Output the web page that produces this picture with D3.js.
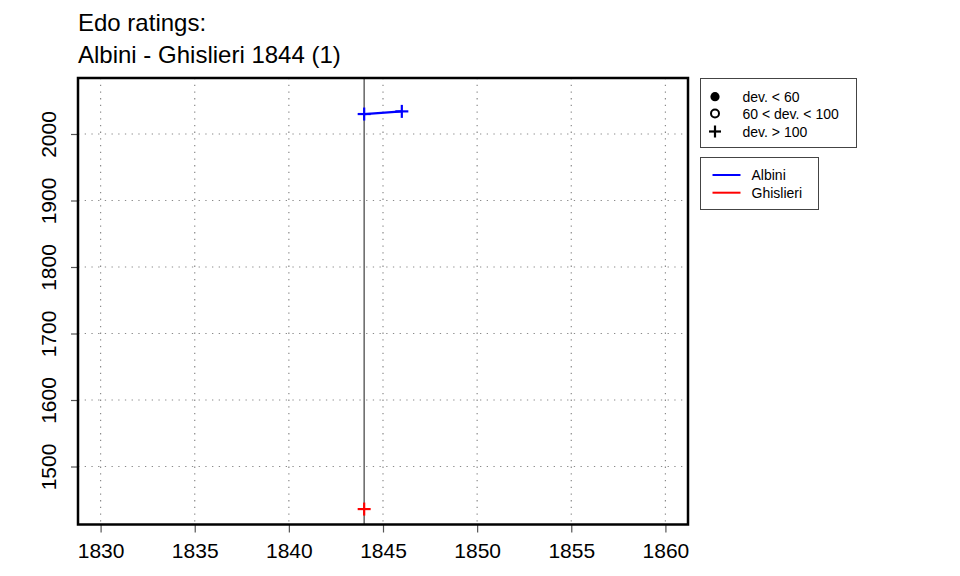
<!DOCTYPE html>
<html>
<head>
<meta charset="utf-8">
<script src="https://cdn.jsdelivr.net/npm/d3@7"></script>
<style>
  body { margin: 0; background: #fff; }
  svg { font-family: "Liberation Sans", Arial, Helvetica, sans-serif; }
</style>
</head>
<body>
<svg id="chart" width="960" height="576"></svg>
<script>
// ---- data ----
const titleLines = ["Edo ratings:", "Albini - Ghislieri 1844 (1)"];
const xTicks = [1830, 1835, 1840, 1845, 1850, 1855, 1860];
const yTicks = [1500, 1600, 1700, 1800, 1900, 2000];
const xDomain = [1828.8, 1861.2];
const yDomain = [1412.8, 2084.2];
const matchYear = 1844;
const playerNames = ["Albini", "Ghislieri"];
const playerColors = ["#0000ff", "#ff0000"];
const albiniYears = [1844, 1846];
const albiniRatings = [2030, 2034];
const ghislieriYears = [1844];
const ghislieriRatings = [1436];
const devLabels = ["dev. < 60", "60 < dev. < 100", "dev. > 100"];

const series = [
  { name: playerNames[0], color: playerColors[0], years: albiniYears, ratings: albiniRatings },
  { name: playerNames[1], color: playerColors[1], years: ghislieriYears, ratings: ghislieriRatings }
];

// ---- layout ----
const svg = d3.select("#chart");
const L = 78, R = 688, T = 78, B = 524.5;
const x = d3.scaleLinear().domain(xDomain).range([L, R]);
const y = d3.scaleLinear().domain(yDomain).range([B, T]);

// title
svg.selectAll("text.title").data(titleLines).enter().append("text")
  .attr("class", "title")
  .attr("x", 78).attr("y", (d, i) => 31 + i * 32)
  .attr("font-size", 24).attr("fill", "#000")
  .text(d => d);

// grid
const grid = svg.append("g");
grid.selectAll("line.gx").data(xTicks).enter().append("line")
  .attr("x1", d => x(d)).attr("x2", d => x(d))
  .attr("y1", T).attr("y2", B)
  .attr("stroke", "#8a8a8a").attr("stroke-width", 1.2)
  .attr("stroke-dasharray", "1.3,5.4");
grid.selectAll("line.gy").data(yTicks).enter().append("line")
  .attr("x1", L).attr("x2", R)
  .attr("y1", d => y(d)).attr("y2", d => y(d))
  .attr("stroke", "#8a8a8a").attr("stroke-width", 1.2)
  .attr("stroke-dasharray", "1.3,5.4");

// axes
const xAxis = d3.axisBottom(x).tickValues(xTicks).tickSize(8).tickPadding(10).tickFormat(d3.format("d"));
const gx = svg.append("g").attr("transform", `translate(0,${B})`).call(xAxis);
gx.select(".domain").remove();
gx.selectAll(".tick line").attr("stroke", "#555").attr("stroke-width", 1.2);
gx.selectAll(".tick text").attr("font-size", 21).attr("fill", "#000")
  .attr("font-family", "'Liberation Sans', Arial, sans-serif")
  .attr("dy", null).attr("y", 33.5);

const yAxis = d3.axisLeft(y).tickValues(yTicks).tickSize(7).tickFormat(d3.format("d"));
const gy = svg.append("g").attr("transform", `translate(${L},0)`).call(yAxis);
gy.select(".domain").remove();
gy.selectAll(".tick line").attr("stroke", "#555").attr("stroke-width", 1.2);
gy.selectAll(".tick text")
  .attr("font-size", 21).attr("fill", "#000")
  .attr("font-family", "'Liberation Sans', Arial, sans-serif")
  .attr("x", null).attr("dy", null)
  .attr("text-anchor", "middle")
  .attr("transform", "translate(-22,0) rotate(-90)");

// match vertical line
svg.append("line")
  .attr("x1", x(matchYear)).attr("x2", x(matchYear))
  .attr("y1", T).attr("y2", B)
  .attr("stroke", "#6e6e6e").attr("stroke-width", 1.6);

// series lines and points
const line = d3.line().x(d => x(d[0])).y(d => y(d[1]));
series.forEach(s => {
  const pts = s.years.map((yr, i) => [yr, s.ratings[i]]);
  if (pts.length > 1) {
    svg.append("path").datum(pts).attr("d", line)
      .attr("fill", "none").attr("stroke", s.color).attr("stroke-width", 2.2);
  }
  const h = 6.5;
  const g = svg.append("g");
  pts.forEach(p => {
    const cx = x(p[0]), cy = y(p[1]);
    g.append("line").attr("x1", cx - h).attr("x2", cx + h).attr("y1", cy).attr("y2", cy)
      .attr("stroke", s.color).attr("stroke-width", 2.2);
    g.append("line").attr("x1", cx).attr("x2", cx).attr("y1", cy - h).attr("y2", cy + h)
      .attr("stroke", s.color).attr("stroke-width", 2.2);
  });
});

// plot box
svg.append("rect")
  .attr("x", L).attr("y", T).attr("width", R - L).attr("height", B - T)
  .attr("fill", "none").attr("stroke", "#000").attr("stroke-width", 2.5);

// legend 1 (deviation symbols)
const lg1 = svg.append("g");
lg1.append("rect").attr("x", 700.5).attr("y", 78.5).attr("width", 156).attr("height", 69)
  .attr("fill", "#fff").attr("stroke", "#444").attr("stroke-width", 1);
const rowY1 = [96.7, 113.5, 131.5];
devLabels.forEach((lab, i) => {
  const cy = rowY1[i], cx = 715;
  if (i === 0) {
    lg1.append("circle").attr("cx", cx).attr("cy", cy).attr("r", 4.6).attr("fill", "#000");
  } else if (i === 1) {
    lg1.append("circle").attr("cx", cx).attr("cy", cy).attr("r", 4).attr("fill", "none")
      .attr("stroke", "#000").attr("stroke-width", 2);
  } else {
    lg1.append("line").attr("x1", cx - 6).attr("x2", cx + 6).attr("y1", cy).attr("y2", cy)
      .attr("stroke", "#000").attr("stroke-width", 2.2);
    lg1.append("line").attr("x1", cx).attr("x2", cx).attr("y1", cy - 6).attr("y2", cy + 6)
      .attr("stroke", "#000").attr("stroke-width", 2.2);
  }
  lg1.append("text").attr("x", 742.5).attr("y", cy + 5).attr("font-size", 14).attr("fill", "#000").text(lab);
});

// legend 2 (players)
const lg2 = svg.append("g");
lg2.append("rect").attr("x", 700.5).attr("y", 157.5).attr("width", 118).attr("height", 52)
  .attr("fill", "#fff").attr("stroke", "#444").attr("stroke-width", 1);
const rowY2 = [175, 192.7];
series.forEach((s, i) => {
  const cy = rowY2[i];
  lg2.append("line").attr("x1", 712.5).attr("x2", 740.5).attr("y1", cy).attr("y2", cy)
    .attr("stroke", s.color).attr("stroke-width", 2);
  lg2.append("text").attr("x", 751.5).attr("y", cy + 5).attr("font-size", 14).attr("fill", "#000").text(s.name);
});
</script>
</body>
</html>
